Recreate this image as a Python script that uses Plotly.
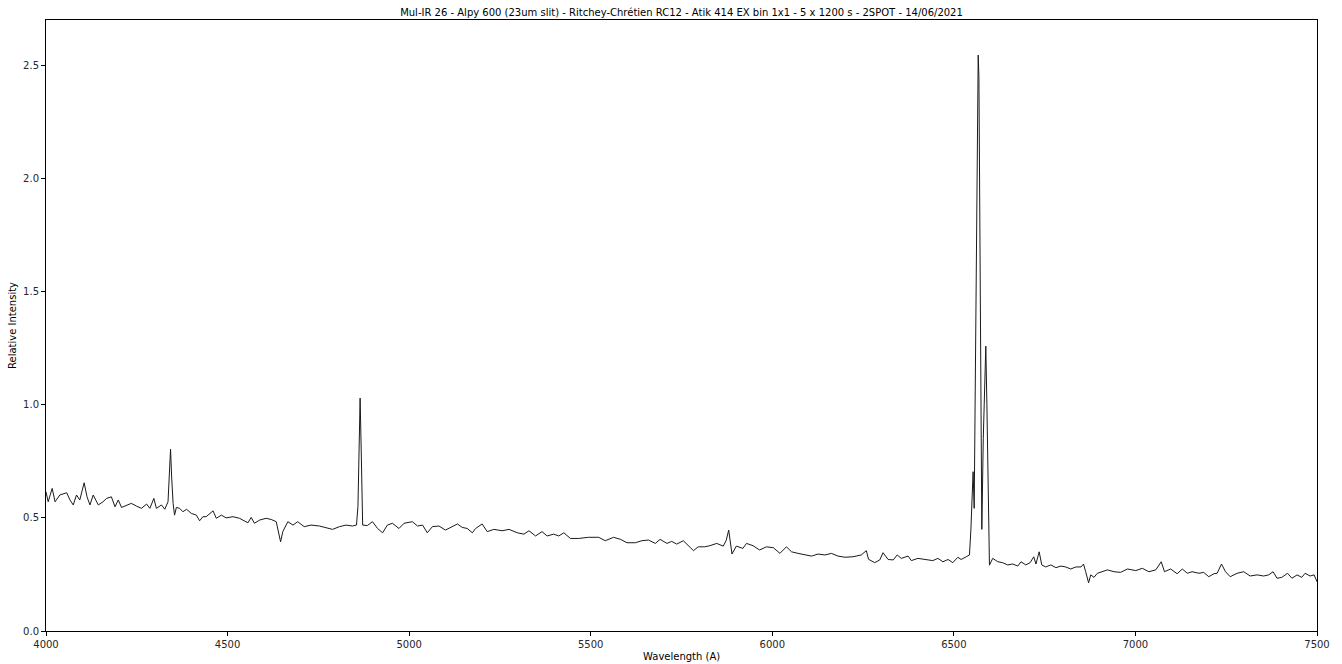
import plotly.graph_objects as go

TITLE = "Mul-IR 26 - Alpy 600 (23um slit) - Ritchey-Chrétien RC12 - Atik 414 EX bin 1x1 - 5 x 1200 s - 2SPOT - 14/06/2021"

wavelength = [
    4000, 4006, 4017, 4025, 4038, 4057, 4066, 4075, 4084, 4093, 4105, 4113, 4121, 4130, 4144, 4157,
    4167, 4180, 4190, 4199, 4208, 4222, 4235, 4249, 4263, 4277, 4286, 4297, 4304, 4318, 4327, 4336,
    4340, 4343, 4346, 4350, 4354, 4359, 4368, 4377, 4387, 4400, 4414, 4423, 4432, 4441, 4460, 4469,
    4483, 4496, 4515, 4533, 4556, 4565, 4574, 4588, 4606, 4620, 4634, 4646, 4652, 4666, 4680, 4693,
    4711, 4730, 4753, 4771, 4789, 4808, 4826, 4844, 4855, 4859, 4862, 4865, 4868, 4872, 4885, 4899,
    4913, 4927, 4940, 4954, 4972, 4986, 5009, 5023, 5037, 5050, 5064, 5082, 5100, 5119, 5133, 5146,
    5160, 5174, 5183, 5201, 5215, 5233, 5256, 5275, 5298, 5316, 5330, 5348, 5366, 5380, 5398, 5412,
    5426, 5444, 5467, 5494, 5522, 5540, 5563, 5582, 5600, 5623, 5641, 5659, 5678, 5691, 5710, 5723,
    5737, 5755, 5769, 5783, 5796, 5814, 5828, 5847, 5865, 5873, 5880, 5885, 5889, 5901, 5919, 5929,
    5947, 5965, 5984, 6003, 6021, 6039, 6053, 6071, 6090, 6108, 6126, 6145, 6163, 6181, 6200, 6222,
    6245, 6259, 6265, 6282, 6296, 6305, 6319, 6333, 6344, 6355, 6374, 6383, 6401, 6424, 6442, 6456,
    6470, 6484, 6497, 6511, 6520, 6534, 6543, 6547, 6550, 6553, 6556, 6560, 6564, 6567, 6569, 6572,
    6577, 6581, 6585, 6588, 6591, 6595, 6598, 6607, 6621, 6634, 6648, 6662, 6676, 6685, 6698, 6710,
    6720, 6726, 6735, 6742, 6753, 6767, 6781, 6795, 6808, 6822, 6836, 6850, 6857, 6863, 6871, 6877,
    6886, 6895, 6909, 6923, 6941, 6959, 6978, 7001, 7019, 7037, 7056, 7071, 7080, 7097, 7115, 7129,
    7143, 7156, 7175, 7188, 7202, 7216, 7225, 7237, 7248, 7261, 7280, 7298, 7316, 7335, 7353, 7367,
    7379, 7390, 7403, 7419, 7431, 7445, 7458, 7467, 7481, 7492, 7500,
]

intensity = [
    0.615, 0.571, 0.630, 0.571, 0.601, 0.611, 0.579, 0.557, 0.601, 0.579, 0.655, 0.593, 0.557, 0.601, 0.557, 0.571,
    0.586, 0.593, 0.549, 0.579, 0.546, 0.557, 0.564, 0.552, 0.542, 0.561, 0.542, 0.586, 0.542, 0.557, 0.538, 0.571,
    0.680, 0.803, 0.680, 0.564, 0.512, 0.546, 0.542, 0.527, 0.538, 0.520, 0.512, 0.487, 0.505, 0.505, 0.531, 0.498,
    0.512, 0.500, 0.505, 0.498, 0.478, 0.502, 0.476, 0.490, 0.498, 0.493, 0.483, 0.394, 0.439, 0.483, 0.468, 0.483,
    0.461, 0.468, 0.464, 0.458, 0.449, 0.461, 0.468, 0.464, 0.468, 0.550, 0.850, 1.029, 0.800, 0.468, 0.466, 0.483,
    0.453, 0.434, 0.468, 0.476, 0.453, 0.476, 0.483, 0.464, 0.468, 0.434, 0.461, 0.464, 0.446, 0.461, 0.473, 0.458,
    0.453, 0.434, 0.453, 0.473, 0.439, 0.449, 0.443, 0.449, 0.434, 0.428, 0.443, 0.420, 0.439, 0.420, 0.428, 0.420,
    0.434, 0.409, 0.409, 0.414, 0.414, 0.399, 0.414, 0.405, 0.390, 0.390, 0.399, 0.402, 0.387, 0.405, 0.387, 0.396,
    0.384, 0.399, 0.375, 0.355, 0.372, 0.372, 0.377, 0.387, 0.375, 0.400, 0.446, 0.380, 0.340, 0.375, 0.365, 0.387,
    0.377, 0.358, 0.372, 0.368, 0.343, 0.372, 0.350, 0.343, 0.336, 0.331, 0.340, 0.336, 0.343, 0.331, 0.326, 0.328,
    0.336, 0.355, 0.317, 0.302, 0.314, 0.346, 0.316, 0.314, 0.336, 0.321, 0.331, 0.311, 0.321, 0.314, 0.311, 0.321,
    0.306, 0.316, 0.302, 0.326, 0.316, 0.328, 0.336, 0.450, 0.640, 0.704, 0.542, 1.300, 2.300, 2.545, 2.450, 1.500,
    0.449, 0.850, 1.180, 1.259, 1.000, 0.550, 0.291, 0.321, 0.306, 0.302, 0.292, 0.296, 0.287, 0.306, 0.292, 0.302,
    0.328, 0.296, 0.350, 0.292, 0.283, 0.292, 0.280, 0.287, 0.283, 0.274, 0.283, 0.283, 0.296, 0.262, 0.213, 0.248,
    0.237, 0.255, 0.262, 0.270, 0.262, 0.259, 0.274, 0.267, 0.277, 0.262, 0.270, 0.306, 0.262, 0.274, 0.253, 0.274,
    0.255, 0.262, 0.255, 0.259, 0.240, 0.253, 0.255, 0.296, 0.262, 0.240, 0.255, 0.262, 0.243, 0.248, 0.243, 0.248,
    0.262, 0.233, 0.237, 0.255, 0.233, 0.248, 0.237, 0.255, 0.243, 0.248, 0.218,
]

x_ticks = [4000, 4500, 5000, 5500, 6000, 6500, 7000, 7500]
y_ticks = [0.0, 0.5, 1.0, 1.5, 2.0, 2.5]

FONT = "DejaVu Sans"

fig = go.Figure()
fig.add_trace(go.Scatter(
    x=wavelength, y=intensity, mode="lines",
    line=dict(color="#1a1a1a", width=1),
    showlegend=False, hoverinfo="x+y",
))

axis_common = dict(
    showline=True, mirror=True, linecolor="black", linewidth=1,
    showgrid=False, zeroline=False,
    ticks="outside", ticklen=4, tickwidth=1, tickcolor="black",
    tickfont=dict(family=FONT, size=10, color="#262626"),
)

fig.update_layout(
    width=1342, height=664,
    margin=dict(l=46, r=20, t=20, b=33),
    paper_bgcolor="white", plot_bgcolor="white",
    font=dict(family=FONT, size=10, color="black"),
    title=dict(text=TITLE, x=0.5, xanchor="center", xref="paper",
               y=1 - 12 / 664, yref="container", yanchor="middle",
               font=dict(family=FONT, size=10, color="black")),
    xaxis=dict(range=[4000, 7500], tickvals=x_ticks, ticktext=[str(v) for v in x_ticks], **axis_common),
    yaxis=dict(range=[0, 2.7], tickvals=y_ticks, ticktext=[f"{v:.1f}" for v in y_ticks], **axis_common),
    annotations=[
        dict(text="Wavelength (A)", x=0.5, y=0, xref="paper", yref="paper",
             xanchor="center", yanchor="top", yshift=-18, showarrow=False,
             font=dict(family=FONT, size=10, color="black")),
        dict(text="Relative Intensity", x=0, y=0.5, xref="paper", yref="paper",
             xanchor="right", yanchor="middle", xshift=-26, textangle=-90, showarrow=False,
             font=dict(family=FONT, size=10, color="black")),
    ],
)

fig.write_html(
    "out.html",
    config={"displayModeBar": False},
    post_script="document.body.style.margin='0';document.body.style.overflow='hidden';",
)
